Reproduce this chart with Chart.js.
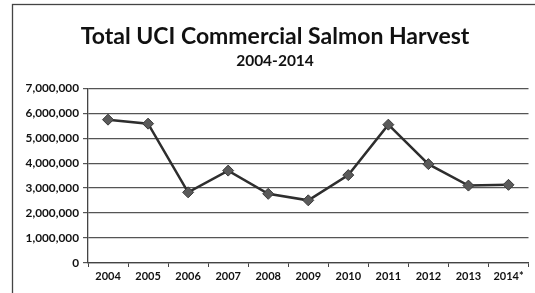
<!DOCTYPE html>
<html>
<head>
<meta charset="utf-8">
<script src="https://cdn.jsdelivr.net/npm/chart.js@4/dist/chart.umd.min.js"></script>
<style>
  html, body { margin: 0; padding: 0; background: #fff; }
  #wrap { width: 535px; height: 293px; position: relative; }
</style>
</head>
<body>
<div id="wrap"><canvas id="graphique"></canvas></div>
<script>
// data
const years = ["2004", "2005", "2006", "2007", "2008", "2009", "2010", "2011", "2012", "2013", "2014*"];
const harvest = [5740000, 5580000, 2830000, 3700000, 2770000, 2510000, 3520000, 5540000, 3960000, 3100000, 3130000];
const yTicks = [0, 1000000, 2000000, 3000000, 4000000, 5000000, 6000000, 7000000];

const titleText = "Total UCI Commercial Salmon Harvest";
const subtitleText = "2004-2014";

// thin frame round the whole chart, like the scanned page
const framePlugin = {
  id: "frame",
  beforeDraw(chart) {
    const c = chart.ctx;
    c.save();
    c.fillStyle = "#fff";
    c.fillRect(0, 0, chart.width, chart.height);
    c.strokeStyle = "#444";
    c.lineWidth = 1.3;
    c.strokeRect(12.5, 4.5, chart.width + 10, chart.height + 10);
    c.restore();
  }
};

function createChart() {
  const ctx = document.getElementById("graphique");
  new Chart(ctx, {
    type: "line",
    data: {
      labels: years,
      datasets: [{
        label: "Harvest",
        data: harvest,
        borderColor: "#2e2e2e",
        borderWidth: 2.5,
        tension: 0,
        fill: false,
        pointStyle: "rectRot",
        pointRadius: 5.5,
        pointBackgroundColor: "#5a5a5a",
        pointBorderColor: "#3a3a3a",
        pointBorderWidth: 1
      }]
    },
    options: {
      responsive: true,
      maintainAspectRatio: false,
      animation: false,
      layout: { padding: { left: 20, right: 5, top: 0, bottom: 0 } },
      plugins: {
        legend: { display: false },
        tooltip: { enabled: false },
        title: {
          display: true,
          text: titleText,
          color: "#111",
          font: { family: "Lato", size: 23, weight: "bold" },
          padding: { top: 23, bottom: 0 }
        },
        subtitle: {
          display: true,
          text: subtitleText,
          color: "#111",
          font: { family: "Lato", size: 15.5, weight: "bold" },
          padding: { top: 1, bottom: 18 }
        }
      },
      scales: {
        x: {
          offset: true,
          grid: {
            display: true,
            offset: true,
            drawOnChartArea: false,
            drawTicks: true,
            tickLength: 4,
            color: "#444"
          },
          border: { display: true, color: "#444", width: 1.3 },
          ticks: {
            color: "#111",
            font: { family: "Lato", size: 11, weight: "bold" },
            padding: 3,
            maxRotation: 0,
            autoSkip: false
          },
          afterFit(scale) { scale.height = 30; }
        },
        y: {
          min: 0,
          max: 7000000,
          afterBuildTicks(scale) {
            scale.ticks = yTicks.map(v => ({ value: v }));
          },
          grid: {
            color: "#555",
            lineWidth: 1.2,
            drawTicks: true,
            tickLength: 5
          },
          border: { display: true, color: "#444", width: 1.3 },
          ticks: {
            color: "#111",
            font: { family: "Lato", size: 11.8, weight: "bold" },
            padding: 4,
            callback: v => v.toLocaleString("en-US")
          },
          afterFit(scale) { scale.width = 68; }
        }
      }
    },
    plugins: [framePlugin]
  });
}

document.addEventListener("DOMContentLoaded", createChart);
</script>
</body>
</html>
